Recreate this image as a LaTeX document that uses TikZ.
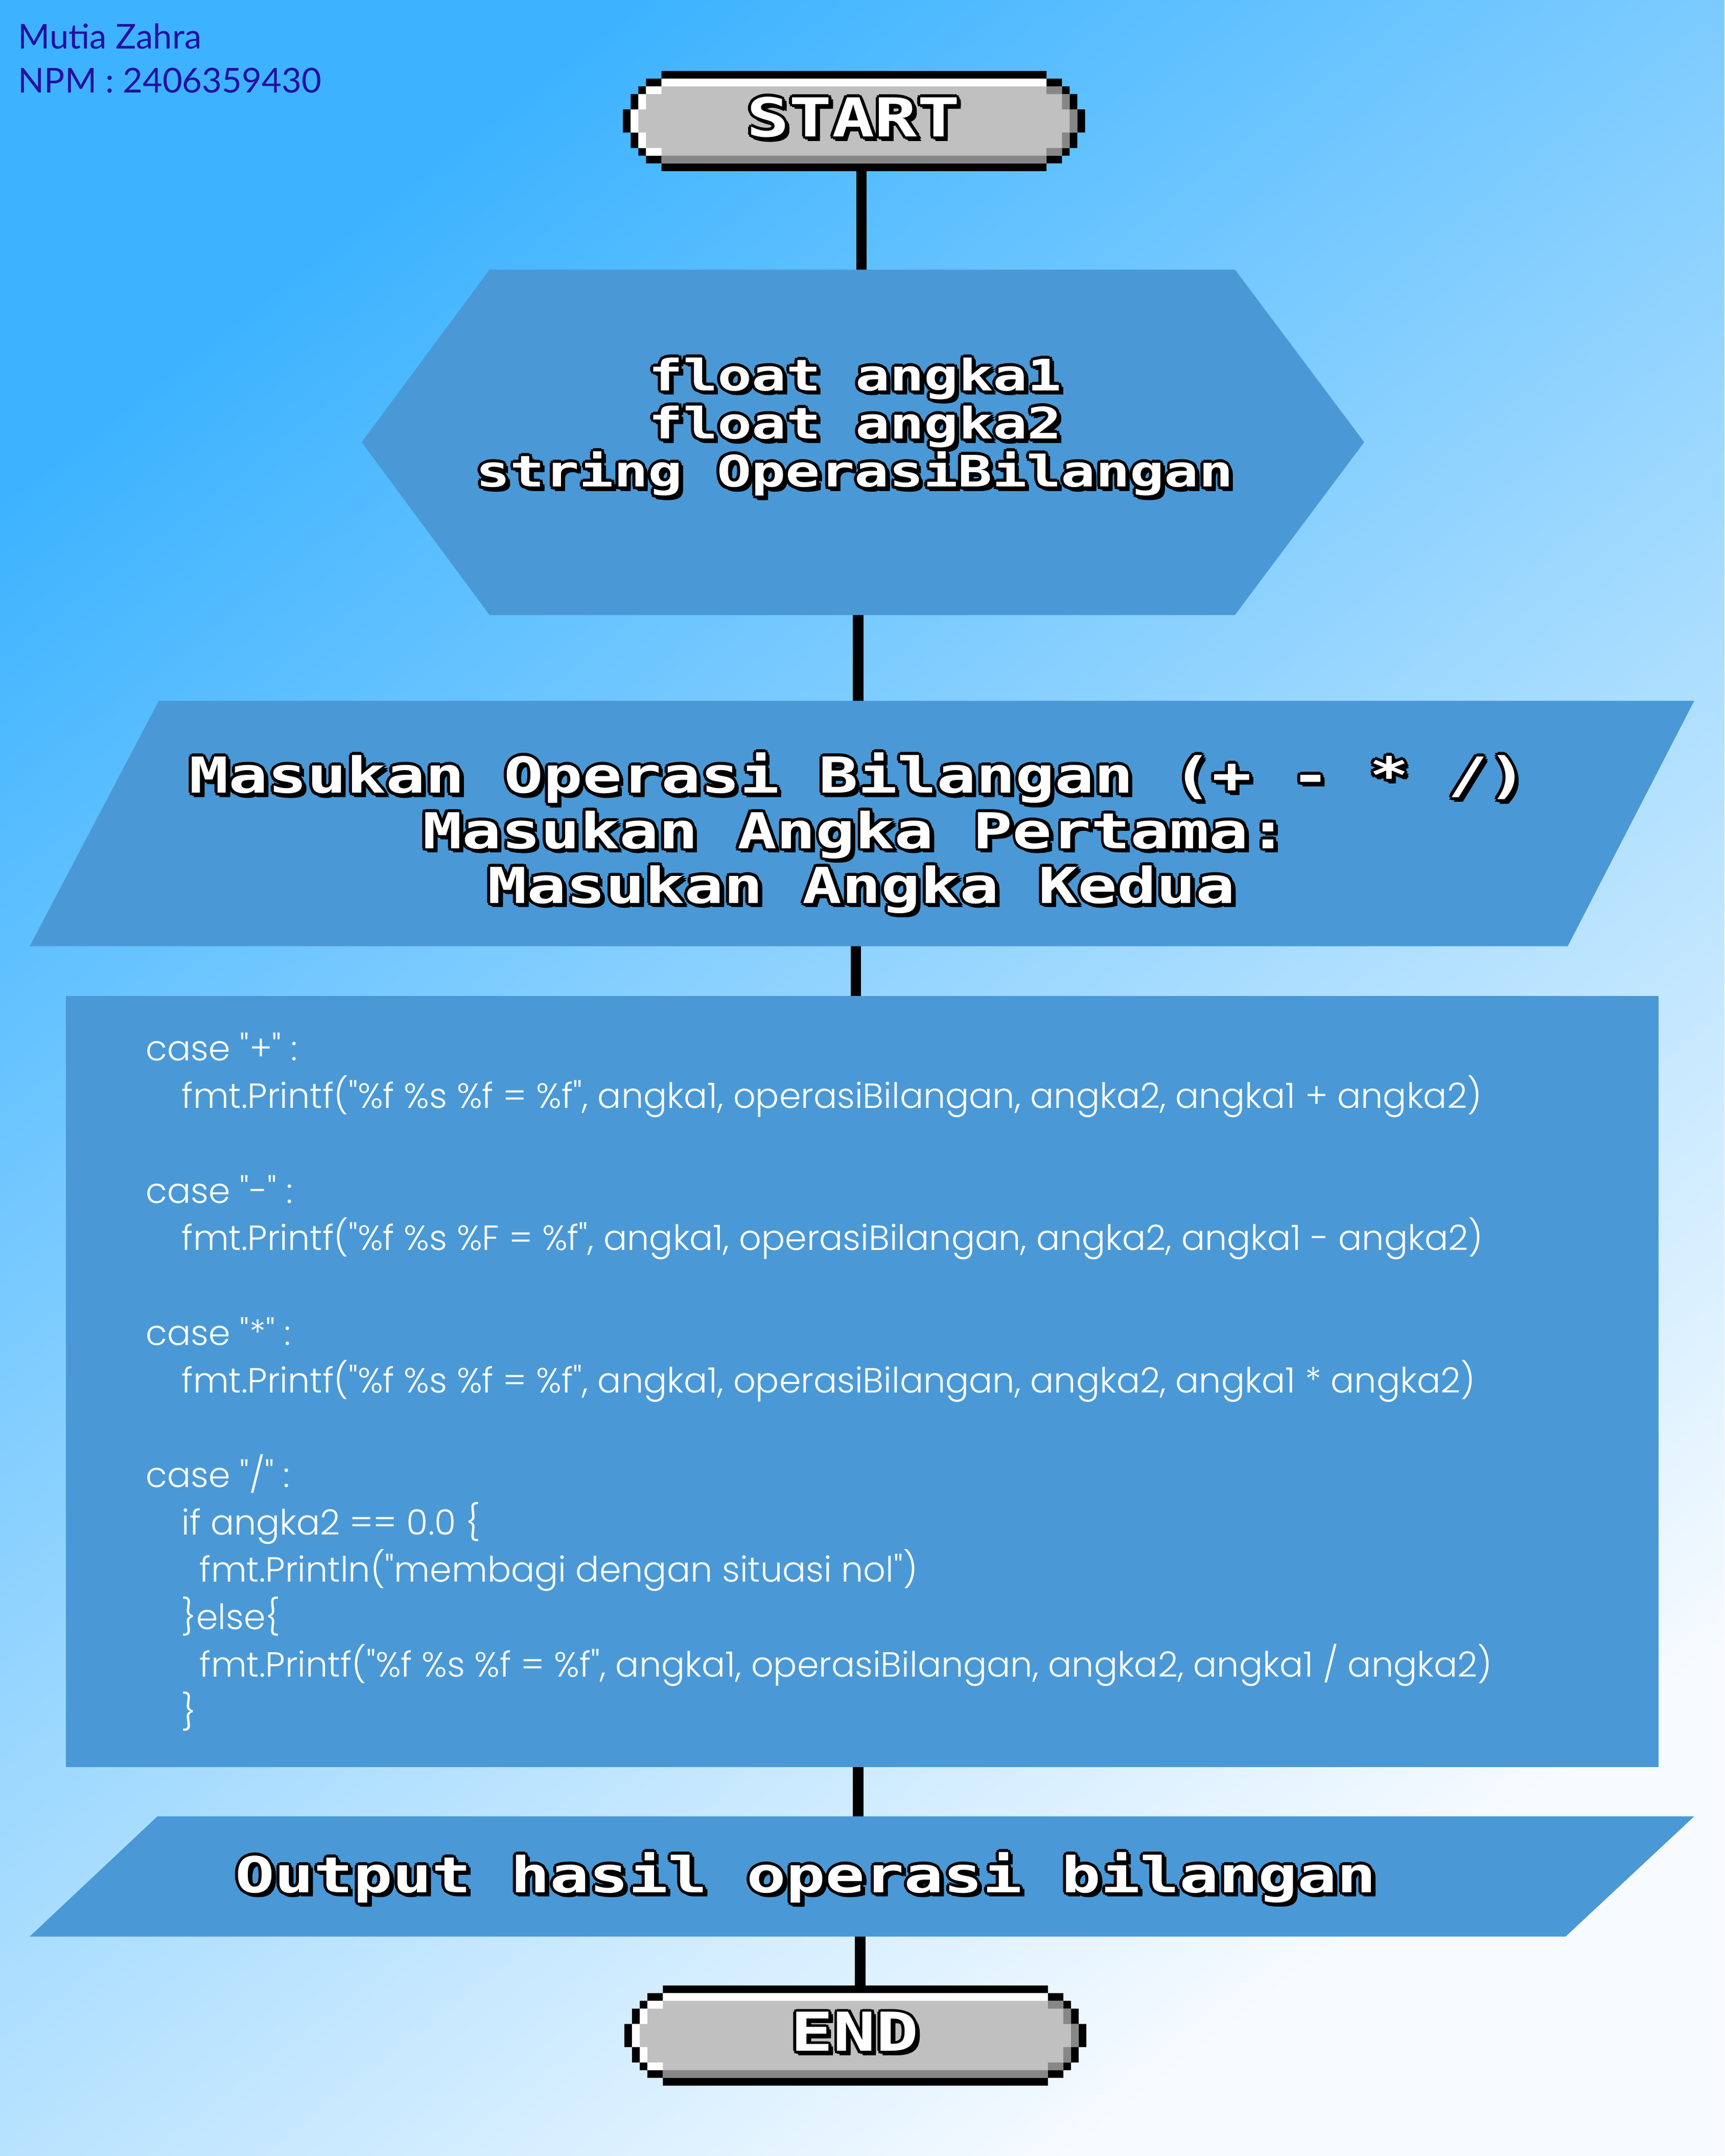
\documentclass[tikz,border=0pt]{standalone}
\usepackage{fontspec}
\newfontfamily\pixfont{DejaVu Sans Mono Bold}[FakeStretch=1.32]
\IfFontExistsTF{Poppins Light}{\newfontfamily\codefont{Poppins Light}}{\newfontfamily\codefont{Poppins}}
\newfontfamily\namefont{Lato}
\definecolor{shapeblue}{HTML}{4A99D6}
\definecolor{bgA}{HTML}{3DB3FF}
\definecolor{bgB}{HTML}{F7FBFF}
\definecolor{namecol}{HTML}{2410A0}
\definecolor{pillgray}{HTML}{C0C0C0}
\definecolor{pilldark}{HTML}{878787}
\pgfdeclarelayer{back}
\pgfdeclarelayer{lines}
\pgfsetlayers{back,lines,main}
\tikzset{
  conn/.style={line width=7.5pt, draw=black},
  ptxt/.style={inner sep=0pt, anchor=base},
  codeline/.style={inner sep=0pt, anchor=base west, text=white, font=\codefont\fontsize{25.4}{29}\selectfont},
  nametxt/.style={inner sep=0pt, anchor=base west, text=namecol, font=\namefont\fontsize{24.9}{29}\selectfont},
  shapefill/.style={fill=shapeblue}
}
% outlined pixel-style text: name, x, y, size, text
\newcommand\ptext[5]{%
  \foreach \dx/\dy in {-2.2/0,2.2/0,0/-2.2,0/2.2,-1.6/-1.6,1.6/-1.6,-1.6/1.6,1.6/1.6,3.2/3.2,3.2/1.6,1.6/3.2}{%
    \node[ptxt, text=black, font=\pixfont\fontsize{#4}{#4}\selectfont] at (#2+\dx,#3+\dy) {#5};
  }
  \node[ptxt, text=white, font=\pixfont\fontsize{#4}{#4}\selectfont] (#1) at (#2,#3) {#5};
}
% pixel pill: name, x, y (top-left), text
\newcommand\pixpill[4]{%
  \begin{scope}[shift={(#2,#3)}, x=5.6pt, y=-5.6pt]
    \fill[black] (5,0) -- (55,0) -- (55,1) -- (57,1) -- (57,2) -- (58,2) -- (58,3) -- (59,3) -- (59,5) -- (60,5) -- (60,8) -- (59,8) -- (59,10) -- (58,10) -- (58,11) -- (57,11) -- (57,12) -- (55,12) -- (55,13) -- (5,13) -- (5,12) -- (3,12) -- (3,11) -- (2,11) -- (2,10) -- (1,10) -- (1,8) -- (0,8) -- (0,5) -- (1,5) -- (1,3) -- (2,3) -- (2,2) -- (3,2) -- (3,1) -- (5,1) -- cycle;
    \fill[pillgray] (5,1) -- (55,1) -- (55,2) -- (57,2) -- (57,3) -- (58,3) -- (58,5) -- (59,5) -- (59,8) -- (58,8) -- (58,10) -- (57,10) -- (57,11) -- (55,11) -- (55,12) -- (5,12) -- (5,11) -- (3,11) -- (3,10) -- (2,10) -- (2,8) -- (1,8) -- (1,5) -- (2,5) -- (2,3) -- (3,3) -- (3,2) -- (5,2) -- cycle;
    \fill[white] (5,1) rectangle (55,2) (3,2) rectangle (5,3) (2,3) rectangle (3,5) (1,5) rectangle (2,8) (2,8) rectangle (3,10) (3,10) rectangle (5,11);
    \fill[pilldark] (5,11) rectangle (55,12) (55,10) rectangle (57,11) (57,8) rectangle (58,10) (58,5) rectangle (59,8) (57,3) rectangle (58,5) (55,2) rectangle (57,3);
    \node[inner sep=0pt, minimum width=336pt, minimum height=72.8pt] (#1) at (30,6.5) {};
  \end{scope}
  \ptext{#1t}{#2+167.5}{#3+47.8}{39}{#4}
}
\begin{document}
\begin{tikzpicture}[x=1pt, y=-1pt]
\useasboundingbox (0,0) rectangle (1254,1567.6);
\begin{pgfonlayer}{back}
  \shade[top color=bgA, bottom color=bgB, shading angle=38] (0,0) rectangle (1254,1567.6);
\end{pgfonlayer}

% name
\node[nametxt] (name1) at (13,35.3) {Mutia Zahra};
\node[nametxt] (name2) at (13,67.5) {NPM : 2406359430};

% start / end pills
\pixpill{start}{453}{51.6}{START}
\pixpill{end}{454}{1443.6}{END}

% hexagon
\fill[shapefill] (356,196) -- (898,196) -- (992,321.5) -- (898,447.2) -- (356,447.2) -- (263,321.5) -- cycle;
\coordinate (hexN) at (626.5,196);
\coordinate (hexS) at (624,447.2);
\ptext{h1}{622}{284}{31.5}{float angka1}
\ptext{h2}{622}{319}{31.5}{float angka2}
\ptext{h3}{621.5}{354}{31.5}{string OperasiBilangan}

% input parallelogram
\fill[shapefill] (115.5,509.5) -- (1232,509.5) -- (1140,688) -- (21.6,688) -- cycle;
\coordinate (inN) at (624,509.5);
\coordinate (inS) at (622.5,688);
\ptext{i1}{624}{576.6}{36}{Masukan Operasi Bilangan (+ - * /)}
\ptext{i2}{622}{616.8}{36}{Masukan Angka Pertama:}
\ptext{i3}{626.5}{656.6}{36}{Masukan Angka Kedua}

% process box
\node[shapefill, inner sep=0pt, minimum width=1158pt, minimum height=561pt] (proc) at (627,1004.5) {};
\node[codeline] (c1) at (106,771.3) {case "+" :};
\node[codeline] (c2) at (132,805.75) {fmt.Printf("\%f \%s \%f = \%f", angka1, operasiBilangan, angka2, angka1 + angka2)};
\node[codeline] (c4) at (106,874.65) {case "-" :};
\node[codeline] (c5) at (132,909.1) {fmt.Printf("\%f \%s \%F = \%f", angka1, operasiBilangan, angka2, angka1 - angka2)};
\node[codeline] (c7) at (106,978.0) {case "*" :};
\node[codeline] (c8) at (132,1012.5) {fmt.Printf("\%f \%s \%f = \%f", angka1, operasiBilangan, angka2, angka1 * angka2)};
\node[codeline] (c10) at (106,1081.4) {case "/" :};
\node[codeline] (c11) at (132,1115.9) {if angka2 == 0.0 \{};
\node[codeline] (c12) at (145,1150.3) {fmt.Println("membagi dengan situasi nol")};
\node[codeline] (c13) at (132,1184.8) {\}else\{};
\node[codeline] (c14) at (145,1219.2) {fmt.Printf("\%f \%s \%f = \%f", angka1, operasiBilangan, angka2, angka1 / angka2)};
\node[codeline] (c15) at (132,1253.7) {\}};

% output parallelogram
\fill[shapefill] (114.5,1320.6) -- (1232,1320.6) -- (1138.5,1408) -- (21.6,1408) -- cycle;
\coordinate (outN) at (624,1320.6);
\coordinate (outS) at (625.5,1408);
\ptext{o1}{586}{1376}{36}{Output hasil operasi bilangan}

% connectors
\begin{pgfonlayer}{lines}
  \draw[conn] ([yshift=4pt]start.south -| hexN) -- ([yshift=-4pt]hexN);
  \draw[conn] ([yshift=4pt]hexS) -- ([yshift=-4pt]hexS |- inN);
  \draw[conn] ([yshift=4pt]inS) -- ([yshift=-4pt]inS |- proc.north);
  \draw[conn] ([yshift=4pt]proc.south -| outN) -- ([yshift=-4pt]outN);
  \draw[conn] ([yshift=4pt]outS) -- ([yshift=-4pt]outS |- end.north);
\end{pgfonlayer}
\end{tikzpicture}
\end{document}
